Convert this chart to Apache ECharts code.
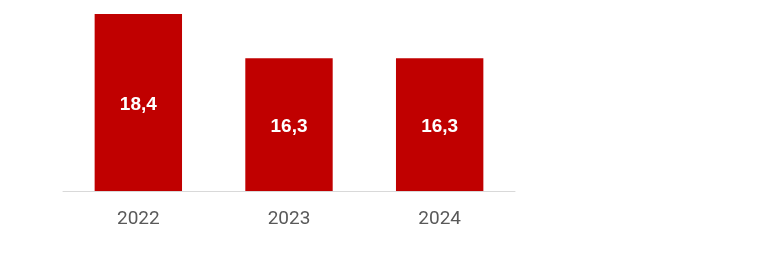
<!DOCTYPE html>
<html><head><meta charset="utf-8">
<script src="https://cdn.jsdelivr.net/npm/echarts@6/dist/echarts.min.js"></script>
<style>html,body{margin:0;padding:0;background:#fff}#c{width:762px;height:279px}</style>
</head><body><div id="c"></div>
<script>
const categories = ['2022', '2023', '2024'];
const values = [18.4, 16.3, 16.3];

const chart = echarts.init(document.getElementById('c'), null, {renderer: 'canvas'});
chart.setOption({
  animation: false,
  grid: {left: 63, top: 14, width: 452, bottom: 88, containLabel: false},
  xAxis: {
    type: 'category', data: categories,
    axisLine: {lineStyle: {color: '#d9d9d9', width: 1}},
    axisTick: {show: false},
    axisLabel: {color: '#595959', fontSize: 19, fontFamily: 'Roboto', margin: 19}
  },
  yAxis: {type: 'value', min: 10, max: 18.4, show: false, splitLine: {show: false}},
  series: [{
    type: 'bar', data: values, barWidth: '58%', itemStyle: {color: '#C00000'},
    label: {show: true, position: 'inside', color: '#fff', fontWeight: 'bold', fontSize: 19,
      fontFamily: 'Liberation Sans', offset: [0, 2], formatter: p => String(p.value).replace('.', ',')}
  }]
});
</script></body></html>
